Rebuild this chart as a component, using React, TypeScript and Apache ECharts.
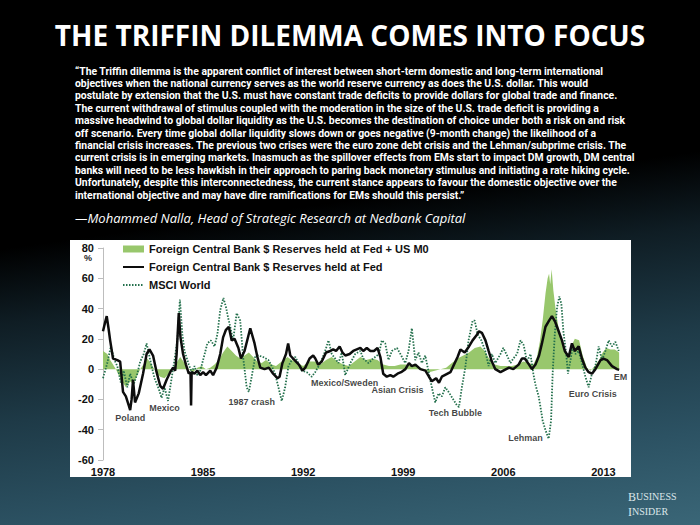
import React, { useEffect, useRef } from "react";
import * as echarts from "echarts";

const TITLE = "THE TRIFFIN DILEMMA COMES INTO FOCUS";
const QUOTE_LINES = [
  "\u201CThe Triffin dilemma is the apparent conflict of interest between short-term domestic and long-term international",
  "objectives when the national currency serves as the world reserve currency as does the U.S. dollar. This would",
  "postulate by extension that the U.S. must have constant trade deficits to provide dollars for global trade and finance.",
  "The current withdrawal of stimulus coupled with the moderation in the size of the U.S. trade deficit is providing a",
  "massive headwind to global dollar liquidity as the U.S. becomes the destination of choice under both a risk on and risk",
  "off scenario. Every time global dollar liquidity slows down or goes negative (9-month change) the likelihood of a",
  "financial crisis increases. The previous two crises were the euro zone debt crisis and the Lehman/subprime crisis. The",
  "current crisis is in emerging markets. Inasmuch as the spillover effects from EMs start to impact DM growth, DM central",
  "banks will need to be less hawkish in their approach to paring back monetary stimulus and initiating a rate hiking cycle.",
  "Unfortunately, despite this interconnectedness, the current stance appears to favour the domestic objective over the",
  "international objective and may have dire ramifications for EMs should this persist.\u201D",
];
const ATTRIBUTION = "\u2014Mohammed Nalla, Head of Strategic Research at Nedbank Capital";

const SERIES_NAMES = [
  "Foreign Central Bank $ Reserves held at Fed + US M0",
  "Foreign Central Bank $ Reserves held at Fed",
  "MSCI World",
];

const X_TICKS = [1978, 1985, 1992, 1999, 2006, 2013];
const Y_TICKS = [-60, -40, -20, 0, 20, 40, 60, 80];

// Foreign CB reserves at Fed + US M0 (green area), 9-month % change
const m0Years = [
  1978.0, 1978.3, 1978.5, 1978.7, 1978.9, 1979.1, 1979.4, 1979.6, 1979.9, 1980.1, 1980.3, 1980.6, 1980.9,
  1981.1, 1981.4, 1981.7, 1982.0, 1982.3, 1982.6, 1982.9, 1983.2, 1983.4, 1983.7, 1984.0, 1984.3, 1984.6,
  1984.9, 1985.2, 1985.5, 1985.8, 1986.1, 1986.4, 1986.7, 1987.0, 1987.3, 1987.6, 1987.9, 1988.2, 1988.5,
  1988.8, 1989.1, 1989.4, 1989.8, 1990.1, 1990.5, 1990.9, 1991.2, 1991.6, 1992.0, 1992.4, 1992.8, 1993.2,
  1993.6, 1994.0, 1994.4, 1994.8, 1995.2, 1995.6, 1996.0, 1996.4, 1996.8, 1997.2, 1997.6, 1998.0, 1998.4,
  1998.8, 1999.2, 1999.6, 2000.0, 2000.4, 2000.8, 2001.2, 2001.6, 2002.0, 2002.4, 2002.8, 2003.2, 2003.6,
  2004.0, 2004.4, 2004.7, 2005.0, 2005.4, 2005.8, 2006.2, 2006.6, 2007.0, 2007.4, 2007.8, 2008.1, 2008.35,
  2008.55, 2008.75, 2008.95, 2009.1, 2009.2, 2009.28, 2009.38, 2009.5, 2009.65, 2009.85, 2010.05, 2010.3,
  2010.55, 2010.8, 2011.0, 2011.3, 2011.55, 2011.85, 2012.1, 2012.4, 2012.7, 2012.95, 2013.2, 2013.5,
  2013.8, 2014.1,
];
const m0Values = [
  12, 10, 6, 3, 0, -4, -9, -12, -8, -10, -6, 0, 4,
  7, 3, -2, -5, -6, -3, 1, 5, 8, 4, 0, -2, 1,
  2, 0, 1, 3, 6, 11, 15, 12, 9, 7, 9, 11, 8,
  5, 4, 6, 3, 2, 5, 8, 6, 4, 2, 5, 5, 3,
  6, 8, 5, 3, 2, 5, 8, 6, 7, 6, 3, 2, 2,
  3, 3, 2, 2, 0, -2, -1, 0, 1, 4, 7, 9, 11,
  14, 15, 12, 7, 3, 2, 2, 2, 3, 5, 4, 3, 8,
  18, 32, 50, 60, 63, 56, 66, 52, 40, 28, 20, 12,
  10, 16, 20, 19, 9, 1, -1, 2, 6, 11, 14, 13,
  13, 11,
];

// Foreign CB reserves held at Fed (black line)
const fedYears = [
  1978.0, 1978.15, 1978.26, 1978.4, 1978.5, 1978.7, 1979.0, 1979.2, 1979.4, 1979.6, 1979.8, 1979.9, 1980.0,
  1980.1, 1980.24, 1980.5, 1980.8, 1981.05, 1981.25, 1981.5, 1981.75, 1982.0, 1982.2, 1982.45, 1982.7,
  1982.9, 1983.05, 1983.15, 1983.3, 1983.42, 1983.6, 1983.8, 1984.0, 1984.12, 1984.16, 1984.2, 1984.4,
  1984.6, 1984.8, 1985.0, 1985.2, 1985.5, 1985.7, 1985.95, 1986.2, 1986.4, 1986.6, 1986.8, 1987.0, 1987.2,
  1987.47, 1987.65, 1987.9, 1988.3, 1988.6, 1988.8, 1989.0, 1989.3, 1989.6, 1989.9, 1990.2, 1990.35,
  1990.55, 1990.8, 1990.95, 1991.1, 1991.4, 1991.7, 1991.95, 1992.15, 1992.45, 1992.7, 1992.85, 1993.05,
  1993.3, 1993.6, 1993.9, 1994.1, 1994.3, 1994.55, 1994.75, 1994.95, 1995.25, 1995.5, 1995.75, 1996.0,
  1996.2, 1996.45, 1996.7, 1996.95, 1997.2, 1997.4, 1997.6, 1997.85, 1998.1, 1998.3, 1998.6, 1998.85,
  1999.15, 1999.4, 1999.6, 1999.85, 2000.2, 2000.55, 2000.8, 2001.0, 2001.3, 2001.5, 2001.7, 2002.1,
  2002.3, 2002.5, 2002.8, 2003.0, 2003.3, 2003.6, 2003.85, 2004.1, 2004.3, 2004.5, 2004.75, 2004.97,
  2005.2, 2005.44, 2005.8, 2006.0, 2006.4, 2006.7, 2007.07, 2007.3, 2007.5, 2007.8, 2008.0, 2008.25,
  2008.5, 2008.7, 2008.95, 2009.2, 2009.4, 2009.64, 2009.87, 2010.1, 2010.3, 2010.57, 2010.8, 2011.0,
  2011.27, 2011.5, 2011.74, 2011.97, 2012.2, 2012.44, 2012.8, 2013.0, 2013.25, 2013.6, 2013.95, 2014.1,
];
const fedValues = [
  25, 31, 35, 26, 19, 7, 6, 5, -15, -18, -24, -27, -20,
  -7, -22, -16, -3, 10, 13, 9, -2, -11, -13, -7, -2,
  1, -1, 10, 37, 21, 10, 3, -3, -2, -24, -2, -3,
  -1, -4, -2, -4, -1, -4, 1, 10, 21, 26, 28, 19, 20,
  14, 7, 12, 27, 17, 8, 1, 0, 1, -3, -6, -5,
  4, 10, 17, 9, 6, 3, -1, 1, 7, 9, 7, 3,
  5, 11, 12, 13, 12, 15, 11, 9, 10, 12, 13, 14,
  12, 14, 12, 12, 14, 8, -3, -5, -4, -5, -3, -2,
  0, 4, 2, 3, 0, -1, -5, -8, -6, -9, -5, -3,
  -2, 2, 8, 13, 11, 15, 19, 22, 25, 24, 19, 12,
  5, 0, -2, -1, 1, 0, 3, 7, 7, 3, 0, 3,
  9, 17, 28, 32, 35, 31, 25, 19, 12, 8, 17, 12,
  15, 7, 1, -2, -3, 0, 6, 7, 6, 2, 0, -0.5,
];

// MSCI World (dotted line)
const msciYears = [
  1978.0, 1978.3, 1978.55, 1978.8, 1979.0, 1979.25, 1979.45, 1979.7, 1979.9, 1980.15, 1980.4, 1980.6,
  1980.85, 1981.05, 1981.3, 1981.6, 1981.9, 1982.1, 1982.3, 1982.55, 1982.8, 1983.0, 1983.2, 1983.38,
  1983.55, 1983.7, 1984.0, 1984.2, 1984.4, 1984.6, 1984.8, 1985.0, 1985.3, 1985.55, 1985.8, 1986.0,
  1986.2, 1986.42, 1986.6, 1986.75, 1986.9, 1987.1, 1987.35, 1987.6, 1987.8, 1988.05, 1988.2, 1988.4,
  1988.64, 1988.87, 1989.2, 1989.57, 1989.8, 1990.04, 1990.27, 1990.5, 1990.74, 1990.97, 1991.2, 1991.45,
  1991.67, 1991.9, 1992.25, 1992.6, 1992.84, 1993.2, 1993.54, 1993.77, 1994.0, 1994.24, 1994.47, 1994.7,
  1994.94, 1995.3, 1995.64, 1996.0, 1996.2, 1996.57, 1996.9, 1997.3, 1997.5, 1997.74, 1997.97, 1998.2,
  1998.56, 1998.8, 1999.14, 1999.37, 1999.6, 1999.84, 2000.07, 2000.3, 2000.54, 2000.8, 2001.0, 2001.24,
  2001.47, 2001.7, 2001.94, 2002.17, 2002.5, 2002.76, 2002.9, 2003.1, 2003.34, 2003.57, 2003.85, 2004.0,
  2004.2, 2004.46, 2004.74, 2004.97, 2005.2, 2005.44, 2005.8, 2006.0, 2006.26, 2006.5, 2006.7, 2006.96,
  2007.2, 2007.42, 2007.66, 2007.9, 2008.1, 2008.24, 2008.47, 2008.6, 2008.75, 2008.94, 2009.17, 2009.34,
  2009.45, 2009.6, 2009.76, 2009.92, 2010.06, 2010.2, 2010.4, 2010.52, 2010.7, 2010.85, 2011.04, 2011.27,
  2011.5, 2011.74, 2011.97, 2012.2, 2012.44, 2012.67, 2012.9, 2013.14, 2013.37, 2013.6, 2013.84, 2014.07,
];
const msciValues = [
  -6, 4, 15, 6, 2, -9, -1, -12, -3, -10, -3, 5,
  10, 17, 6, -6, -13, -19, -12, -21, -6, 6, 19, 46,
  23, 12, 3, -2, 2, -4, -1, 6, 17, 19, 15, 23,
  39, 47, 41, 34, 28, 19, 37, 32, 8, -12, -15, -5,
  8, 9, 8, 6, 2, -3, -12, -21, -12, 2, 6, 8,
  4, -1, -2, -5, -2, 4, 12, 19, 10, 7, 4, 11,
  -4, 4, 10, 12, 7, 4, 7, 10, 19, 17, 6, 12,
  14, 10, 4, 12, 27, 6, 11, 4, 9, -3, -12, -22,
  -16, -18, -12, -15, -20, -24, -25, -12, 1, 19, 32, 32,
  23, 19, 12, 2, 10, 4, 10, 14, 9, 4, 7, 10,
  19, 16, 5, 10, -3, -10, -18, -25, -34, -40, -46, -34,
  -3, 23, 41, 48, 43, 25, 10, -3, 6, 15, 10, 12,
  4, -5, -12, -3, 2, 15, 6, 12, 19, 15, 18, 12,
];

// Crisis annotations (label, year, value)
const crisisLabels = ["Poland", "Mexico", "1987 crash", "Mexico/Sweden", "Asian Crisis", "Tech Bubble", "Lehman", "Euro Crisis", "EM"];
const crisisYears = [1979.9, 1982.3, 1988.4, 1994.9, 1998.6, 2002.65, 2007.55, 2012.25, 2014.2];
const crisisValues = [-32.3, -25.7, -21.8, -9.2, -13.9, -29, -45.5, -16.5, -5.3];

const zip = (xs: number[], ys: number[]) => xs.map((x, i) => [x, ys[i]]);

export default function App() {
  const ref = useRef<HTMLDivElement>(null);

  useEffect(() => {
    if (!ref.current) return;
    const chart = echarts.init(ref.current, undefined, { renderer: "svg" });

    const quoteGraphics = QUOTE_LINES.map((line, i) => ({
      type: "text",
      left: 75,
      top: 66 + i * 12.4,
      style: {
        text: line,
        fill: "#ffffff",
        font: "bold 10.4px Roboto",
      },
    }));

    const hiddenSymbol = { color: "rgba(0,0,0,0)", borderWidth: 0, opacity: 0 };

    chart.setOption({
      animation: false,
      backgroundColor: "transparent",
      title: {
        text: TITLE,
        left: "center",
        top: 16,
        textStyle: {
          color: "#ffffff",
          fontFamily: "Open Sans",
          fontWeight: "bold",
          fontSize: 28,
        },
      },
      graphic: [
        {
          type: "rect",
          z: -10,
          shape: { x: 70, y: 240, width: 561, height: 237 },
          style: { fill: "#ffffff" },
        },
        ...quoteGraphics,
        {
          type: "text",
          left: 75,
          top: 211,
          style: {
            text: ATTRIBUTION,
            fill: "#ffffff",
            fontFamily: "Open Sans",
            fontStyle: "italic",
            fontWeight: "normal",
            fontSize: 13,
          },
        },
        {
          type: "text",
          left: 84,
          top: 253,
          style: { text: "%", fill: "#222", fontFamily: "Liberation Sans", fontWeight: "bold", fontSize: 9 },
        },
        {
          type: "text",
          left: 628,
          top: 489,
          style: {
            text: "{b|B}{s|USINESS}\n{b|I}{s|NSIDER}",
            fill: "#dce6ea",
            fontFamily: "Liberation Serif",
            lineHeight: 15,
            rich: {
              b: { fontSize: 12, fontFamily: "Liberation Serif", fill: "#dce6ea", lineHeight: 15 },
              s: { fontSize: 10, fontFamily: "Liberation Serif", fill: "#dce6ea", lineHeight: 15 },
            },
          },
        },
      ],
      legend: {
        orient: "vertical",
        left: 122,
        top: 243,
        padding: 0,
        itemGap: 6,
        itemWidth: 21,
        itemHeight: 7,
        textStyle: {
          color: "#111",
          fontFamily: "Liberation Sans",
          fontWeight: "bold",
          fontSize: 11,
          lineHeight: 12,
        },
        data: [
          { name: SERIES_NAMES[0], icon: "rect" },
          { name: SERIES_NAMES[1], itemStyle: hiddenSymbol },
          { name: SERIES_NAMES[2], itemStyle: hiddenSymbol },
        ],
      },
      grid: { left: 103, top: 248, right: 68, bottom: 65, containLabel: false },
      xAxis: {
        type: "value",
        min: 1978,
        max: 2015,
        interval: 7,
        axisLine: { show: false },
        axisTick: { show: false },
        splitLine: { show: false },
        axisLabel: {
          margin: 6,
          color: "#111",
          fontFamily: "Liberation Sans",
          fontWeight: "bold",
          fontSize: 11,
          formatter: (v: number) => (X_TICKS.includes(v) ? String(v) : ""),
        },
      },
      yAxis: {
        type: "value",
        min: Y_TICKS[0],
        max: Y_TICKS[Y_TICKS.length - 1],
        interval: 20,
        axisLine: { show: true, lineStyle: { color: "#bdbdbd", width: 1 } },
        axisTick: { show: true, length: 5, lineStyle: { color: "#bdbdbd" } },
        splitLine: { show: false },
        axisLabel: {
          margin: 9,
          color: "#111",
          fontFamily: "Liberation Sans",
          fontWeight: "bold",
          fontSize: 11,
          formatter: (v: number) => String(v),
        },
      },
      series: [
        {
          name: SERIES_NAMES[0],
          type: "line",
          data: zip(m0Years, m0Values),
          showSymbol: false,
          symbol: "none",
          z: 1,
          itemStyle: { color: "#98c76c" },
          lineStyle: { width: 0, color: "#98c76c" },
          areaStyle: { color: "#98c76c", opacity: 1 },
        },
        {
          name: SERIES_NAMES[2],
          type: "line",
          data: zip(msciYears, msciValues),
          showSymbol: false,
          symbol: "none",
          z: 2,
          itemStyle: { color: "#23704c" },
          lineStyle: { width: 1.8, color: "#23704c", type: [1.5, 1.5] },
        },
        {
          name: SERIES_NAMES[1],
          type: "line",
          data: zip(fedYears, fedValues),
          showSymbol: false,
          symbol: "none",
          z: 3,
          itemStyle: { color: "#0d0d0d" },
          lineStyle: { width: 2.5, color: "#0d0d0d" },
        },
        {
          name: "Crises",
          type: "scatter",
          z: 4,
          symbolSize: 1,
          itemStyle: { color: "rgba(0,0,0,0)" },
          data: crisisLabels.map((name, i) => ({ name, value: [crisisYears[i], crisisValues[i]] })),
          label: {
            show: true,
            position: "inside",
            formatter: (p: any) => p.name,
            color: "#111",
            fontFamily: "Liberation Sans",
            fontWeight: "bold",
            fontSize: 9,
          },
        },
      ],
    });

    return () => chart.dispose();
  }, []);

  return (
    <div
      style={{
        position: "fixed",
        left: 0,
        top: 0,
        width: 700,
        height: 525,
        background:
          "linear-gradient(172deg, #000000 0%, #000000 40%, #0f1d24 52%, #1e3a47 68%, #2c5263 85%, #3a6677 100%)",
      }}
    >
      <div ref={ref} style={{ width: 700, height: 525 }} />
    </div>
  );
}
